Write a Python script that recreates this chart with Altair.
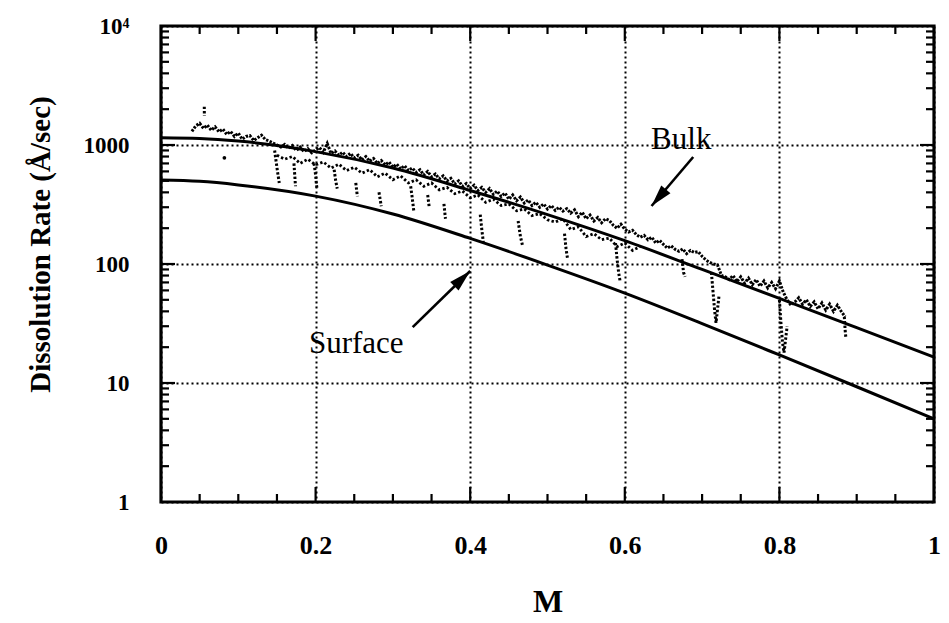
import altair as alt
import pandas as pd

FONT = "Liberation Serif"
W, H = 773, 476

# ---- fitted model curves ----
bulk_m = [0.0, 0.05, 0.1, 0.15, 0.2, 0.3, 0.4, 0.5, 0.6, 0.7, 0.8, 0.9, 1.0]
bulk_r = [1150, 1135, 1080, 990, 880, 640, 415, 260, 157, 90, 51.5, 29.2, 16.5]
surf_m = [0.0, 0.05, 0.1, 0.2, 0.3, 0.4, 0.5, 0.6, 0.7, 0.8, 0.9, 1.0]
surf_r = [508, 495, 462, 372, 263, 164, 98, 57, 31.6, 17.2, 9.3, 5.0]

# ---- measured dissolution trace (upper, dense) ----
trace_m = [
    0.040, 0.045, 0.050, 0.055, 0.060, 0.065, 0.070, 0.075, 0.080, 0.085,
    0.090, 0.095, 0.100, 0.105, 0.110, 0.115, 0.120, 0.125, 0.130, 0.135,
    0.140, 0.145, 0.150, 0.155, 0.160, 0.165, 0.170, 0.175, 0.180, 0.185,
    0.190, 0.195, 0.200, 0.205, 0.210, 0.215, 0.220, 0.225, 0.230, 0.235,
    0.240, 0.245, 0.250, 0.255, 0.260, 0.265, 0.270, 0.275, 0.280, 0.285,
    0.290, 0.295, 0.300, 0.305, 0.310, 0.315, 0.320, 0.325, 0.330, 0.335,
    0.340, 0.345, 0.350, 0.355, 0.360, 0.365, 0.370, 0.375, 0.380, 0.385,
    0.390, 0.395, 0.400, 0.405, 0.410, 0.415, 0.420, 0.425, 0.430, 0.435,
    0.440, 0.445, 0.450, 0.455, 0.460, 0.465, 0.470, 0.475, 0.480, 0.485,
    0.490, 0.495, 0.500, 0.505, 0.510, 0.515, 0.520, 0.525, 0.530, 0.535,
    0.540, 0.545, 0.550, 0.555, 0.560, 0.565, 0.570, 0.575, 0.580, 0.585,
    0.590, 0.595, 0.600, 0.605, 0.610, 0.615, 0.620, 0.625, 0.630, 0.635,
    0.640, 0.645, 0.650, 0.655, 0.660, 0.665, 0.670, 0.675, 0.680, 0.685,
    0.690, 0.695, 0.700, 0.705, 0.710, 0.715, 0.720, 0.725, 0.730, 0.735,
    0.740, 0.745, 0.750, 0.755, 0.760, 0.765, 0.770, 0.775, 0.780, 0.785,
    0.790, 0.795, 0.800, 0.805, 0.810, 0.815, 0.820, 0.825, 0.830, 0.835,
    0.840, 0.845, 0.850, 0.855, 0.860, 0.865, 0.870, 0.875, 0.880, 0.885,
]
trace_r = [
    1300, 1450, 1520, 1380, 1470, 1330, 1420, 1290, 1360, 1230,
    1300, 1180, 1260, 1120, 1180, 1200, 1090, 1150, 1210, 1110,
    1080, 1040, 1000, 960, 1010, 940, 990, 900, 960, 880,
    930, 860, 910, 950, 870, 1030, 850, 890, 820, 870,
    800, 850, 780, 820, 750, 800, 730, 770, 700, 740,
    680, 720, 650, 690, 630, 670, 610, 640, 590, 620,
    560, 600, 540, 570, 520, 550, 500, 525, 470, 500,
    450, 475, 430, 460, 415, 440, 400, 430, 385, 410,
    370, 395, 350, 380, 340, 365, 325, 345, 310, 330,
    300, 320, 290, 310, 282, 300, 278, 292, 268, 285,
    250, 272, 240, 258, 230, 246, 222, 240, 232, 212,
    200, 216, 196, 186, 192, 176, 168, 174, 160, 168,
    150, 158, 146, 136, 142, 133, 128, 134, 122, 130,
    125, 127, 116, 108, 103, 100, 98, 80, 78, 74,
    80, 71, 78, 69, 76, 67, 74, 65, 72, 63,
    70, 62, 72, 58, 50, 45, 48, 52, 46, 50,
    44, 48, 42, 47, 41, 46, 40, 45, 40, 36,
]

# ---- lower part of the scattered band ----
band_m = [
    0.15, 0.16, 0.17, 0.18, 0.19, 0.20, 0.21, 0.22, 0.23, 0.24,
    0.25, 0.26, 0.27, 0.28, 0.29, 0.30, 0.31, 0.32, 0.33, 0.34,
    0.35, 0.36, 0.37, 0.38, 0.39, 0.40, 0.41, 0.42, 0.43, 0.44,
    0.45, 0.46, 0.47, 0.48, 0.49, 0.50, 0.51, 0.52, 0.53, 0.54,
    0.55, 0.56, 0.57, 0.58, 0.59, 0.60, 0.61, 0.62,
]
band_r = [
    820, 760, 800, 700, 760, 680, 720, 640, 690, 610,
    650, 580, 620, 540, 580, 510, 550, 480, 510, 450,
    480, 420, 440, 390, 410, 360, 380, 330, 350, 310,
    320, 280, 290, 255, 265, 235, 225, 240, 195, 205,
    170, 180, 160, 165, 140, 150, 130, 140,
]

# ---- downward excursions (dips) in the measured trace ----
dip_id = [0, 0,
          1, 1, 1, 1,
          2, 2, 2,
          3, 3, 3, 3,
          4, 4, 4,
          5, 5,
          6, 6,
          7, 7, 7,
          8, 8,
          9, 9,
          10, 10, 10,
          11, 11, 11,
          12, 12, 12,
          13, 13, 13, 13,
          14, 14, 14,
          15, 15, 15, 15, 15,
          16, 16, 16, 16, 16,
          17, 17, 17]
dip_m = [0.056, 0.0561,
         0.147, 0.149, 0.151, 0.153,
         0.172, 0.173, 0.174,
         0.198, 0.200, 0.201, 0.202,
         0.224, 0.226, 0.228,
         0.252, 0.254,
         0.282, 0.285,
         0.323, 0.325, 0.327,
         0.345, 0.347,
         0.366, 0.368,
         0.413, 0.415, 0.417,
         0.462, 0.465, 0.468,
         0.522, 0.524, 0.526,
         0.588, 0.590, 0.592, 0.594,
         0.674, 0.676, 0.678,
         0.712, 0.714, 0.716, 0.718, 0.722,
         0.800, 0.802, 0.804, 0.806, 0.810,
         0.884, 0.885, 0.886]
dip_r = [2100, 1750,
         900, 720, 580, 480,
         700, 560, 450,
         700, 560, 470, 425,
         620, 500, 430,
         480, 370,
         400, 305,
         450, 360, 280,
         380, 300,
         320, 240,
         260, 195, 153,
         230, 170, 140,
         180, 134, 110,
         150, 110, 85, 71,
         110, 85, 78,
         85, 60, 42, 32, 55,
         50, 32, 22, 18, 30,
         36, 28, 24]

dot_m = [0.082]
dot_r = [780]

# ---- axis tick positions ----
x_major = [0, 0.2, 0.4, 0.6, 0.8, 1]
x_minor = [0.05, 0.1, 0.15, 0.25, 0.3, 0.35, 0.45, 0.5, 0.55,
           0.65, 0.7, 0.75, 0.85, 0.9, 0.95]
y_major = [1, 10, 100, 1000, 10000]
y_minor = [k * d for d in [1, 10, 100, 1000] for k in range(2, 10)]

# ---- annotations ----
label_text = ["Bulk", "Surface"]
label_m = [0.673, 0.2526]
label_r = [925, 17.9]
arrow_id = ["bulk", "bulk", "surface", "surface"]
arrow_m = [0.6885, 0.6346, 0.3256, 0.400]
arrow_r = [793, 307, 29.5, 87.4]
head_m = [0.6346, 0.400]
head_r = [307, 87.4]
head_angle = [220.6, 46]

# ---------------------------------------------------------------
xs = alt.Scale(domain=[0, 1], nice=False, zero=False)
ys = alt.Scale(type="log", domain=[1, 10000], nice=False)

xaxis = alt.Axis(values=x_major, format="~g", title="M", grid=True, ticks=False,
                 domain=False, labelFont=FONT, labelFontSize=26,
                 labelFontWeight="bold", labelColor="black", labelPadding=30,
                 labelFlush=False, labelOverlap=False,
                 gridColor="black", gridDash=[2, 3], gridWidth=2, gridOpacity=1,
                 titleFont=FONT, titleFontSize=32, titleFontWeight="bold",
                 titleColor="black", titleY=109, titleBaseline="alphabetic")
yaxis = alt.Axis(values=y_major,
                 labelExpr="datum.value >= 10000 ? '10\u2074' : format(datum.value, 'd')",
                 title="Dissolution Rate (\u00c5/sec)", grid=True, ticks=False,
                 domain=False, labelFont=FONT, labelFontSize=23,
                 labelFontWeight="bold", labelColor="black", labelPadding=32,
                 labelFlush=False, labelOverlap=False,
                 gridColor="black", gridDash=[2, 3], gridWidth=2, gridOpacity=1,
                 titleFont=FONT, titleFontSize=29, titleFontWeight="bold",
                 titleColor="black", titleX=-112, titleY=218,
                 titleBaseline="alphabetic", titleAngle=270)


def X():
    return alt.X("m:Q", scale=xs, axis=xaxis)


def Y():
    return alt.Y("r:Q", scale=ys, axis=yaxis)


def df(m, r, **extra):
    d = {"m": m, "r": r}
    d.update(extra)
    return pd.DataFrame(d)


base_grid = alt.Chart(df(bulk_m, bulk_r)).mark_line(opacity=0).encode(x=X(), y=Y())

fit = alt.Chart(
    pd.concat([df(bulk_m, bulk_r, s="bulk"), df(surf_m, surf_r, s="surface")])
).mark_line(color="black", strokeWidth=3, interpolate="monotone").encode(
    x=X(), y=Y(), detail="s:N")

trace = alt.Chart(df(trace_m, trace_r)).mark_line(
    color="black", strokeWidth=3, strokeDash=[2.4, 1.4]).encode(x=X(), y=Y())

band = alt.Chart(df(band_m, band_r)).mark_line(
    color="black", strokeWidth=2.8, strokeDash=[2.4, 2.2]).encode(x=X(), y=Y())

dips = alt.Chart(df(dip_m, dip_r, id=dip_id)).mark_line(
    color="black", strokeWidth=3, strokeDash=[2.4, 2]).encode(
    x=X(), y=Y(), detail="id:N")

dots = alt.Chart(df(dot_m, dot_r)).mark_circle(color="black", size=14, opacity=1).encode(
    x=X(), y=Y())

tick_major_x = pd.DataFrame({"m": x_major[1:-1]})
tick_minor_x = pd.DataFrame({"m": x_minor})
tick_major_y = pd.DataFrame({"r": y_major[1:-1]})
tick_minor_y = pd.DataFrame({"r": y_minor})

tick_style = dict(color="black", strokeWidth=2.2)
ticks = [
    alt.Chart(tick_major_x).mark_rule(**tick_style).encode(x=X(), y=alt.value(H), y2=alt.value(H - 15)),
    alt.Chart(tick_major_x).mark_rule(**tick_style).encode(x=X(), y=alt.value(0), y2=alt.value(15)),
    alt.Chart(tick_minor_x).mark_rule(**tick_style).encode(x=X(), y=alt.value(H), y2=alt.value(H - 8)),
    alt.Chart(tick_minor_x).mark_rule(**tick_style).encode(x=X(), y=alt.value(0), y2=alt.value(8)),
    alt.Chart(tick_major_y).mark_rule(**tick_style).encode(y=Y(), x=alt.value(0), x2=alt.value(14)),
    alt.Chart(tick_major_y).mark_rule(**tick_style).encode(y=Y(), x=alt.value(W), x2=alt.value(W - 14)),
    alt.Chart(tick_minor_y).mark_rule(**tick_style).encode(y=Y(), x=alt.value(0), x2=alt.value(8)),
    alt.Chart(tick_minor_y).mark_rule(**tick_style).encode(y=Y(), x=alt.value(W), x2=alt.value(W - 8)),
]

frame = alt.Chart(pd.DataFrame({"k": [0]})).mark_rect(
    filled=False, stroke="black", strokeWidth=3.2).encode(
    x=alt.value(0), x2=alt.value(W), y=alt.value(0), y2=alt.value(H))

labels = alt.Chart(df(label_m, label_r, t=label_text)).mark_text(
    font=FONT, fontSize=31, color="black", align="center", baseline="alphabetic").encode(
    x=X(), y=Y(), text="t:N")

shafts = alt.Chart(df(arrow_m, arrow_r, id=arrow_id)).mark_line(
    color="black", strokeWidth=2.6).encode(x=X(), y=Y(), detail="id:N")

heads = alt.Chart(df(head_m, head_r, a=head_angle)).mark_point(
    shape="M0,0 L0.55,2 L-0.55,2 Z", filled=True, color="black", opacity=1,
    size=484).encode(x=X(), y=Y(), angle=alt.Angle("a:Q", scale=None))

chart = alt.layer(base_grid, *ticks, band, trace, dips, dots, fit, shafts, heads,
                  labels, frame).properties(
    width=W, height=H,
    padding={"left": 153, "top": 18, "right": 7, "bottom": 117},
    autosize=alt.AutoSizeParams(type="none"),
).configure_view(stroke=None).configure(background="white")

chart.save("out.html", embed_options={"renderer": "svg", "actions": False})
